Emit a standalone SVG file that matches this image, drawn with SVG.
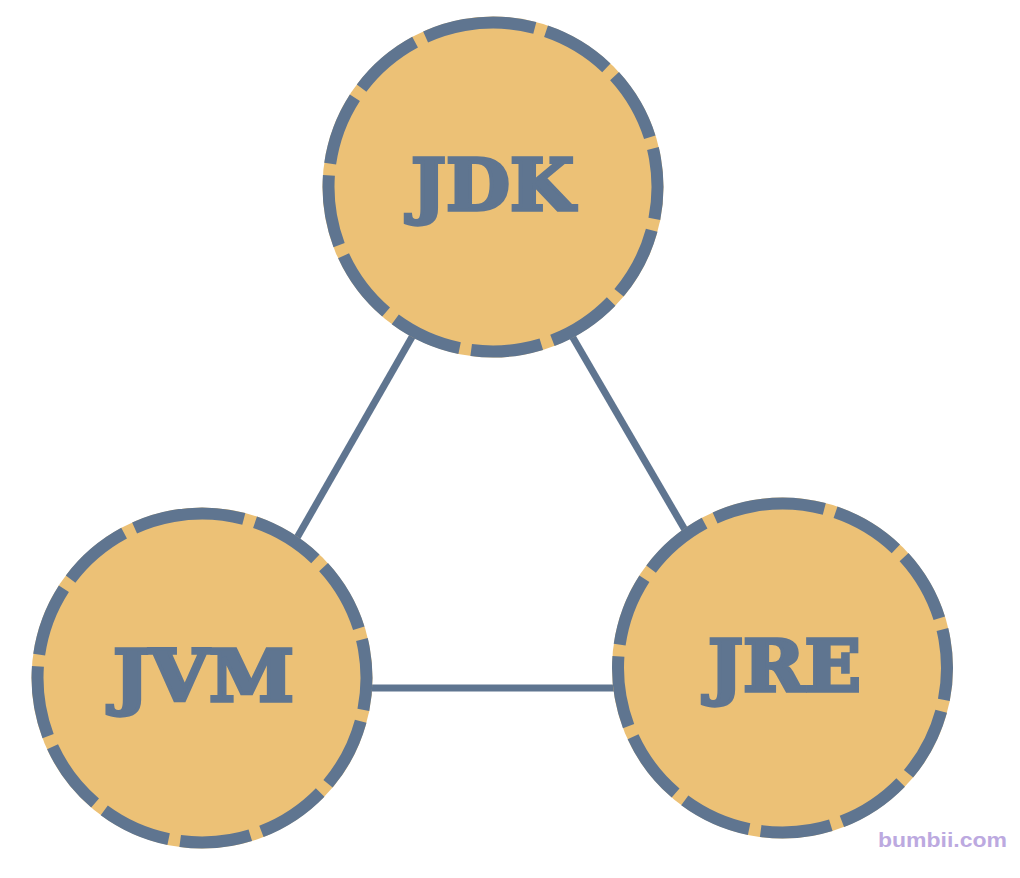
<svg xmlns="http://www.w3.org/2000/svg" width="1020" height="878" viewBox="0 0 1020 878">
  <style>
    .halo { fill: #ECC176; }
    .ring { fill: none; stroke: #5F7590; stroke-width: 12; stroke-dasharray: 71 11.7; }
    .label { font-family: "DejaVu Serif", "Liberation Serif", serif; font-weight: bold; font-size: 71px; fill: #5F7590; stroke: #5F7590; stroke-width: 3.5; stroke-linejoin: miter; text-anchor: middle; }
    .edge { stroke: #5F7590; stroke-width: 7; fill: none; }
    .wm { font-family: "Liberation Sans", Arial, sans-serif; font-weight: bold; font-size: 21px; fill: #BCA9E0; }
  </style>
  <rect width="1020" height="878" fill="#FFFFFF"/>
  <g id="connectors">
    <line class="edge" x1="420" y1="323" x2="290" y2="550"/>
    <line class="edge" x1="565" y1="324" x2="692" y2="542"/>
    <line class="edge" x1="360" y1="688" x2="625" y2="688"/>
  </g>
  <g id="node-jdk">
    <circle class="halo" cx="493" cy="187" r="170.5"/>
    <circle class="ring" cx="493" cy="187" r="164.5" transform="rotate(-100 493 187)"/>
    <text class="label" x="492.5" y="210" textLength="163" lengthAdjust="spacingAndGlyphs">JDK</text>
  </g>
  <g id="node-jvm">
    <circle class="halo" cx="202" cy="678" r="170.5"/>
    <circle class="ring" cx="202" cy="678" r="164.5" transform="rotate(-100 202 678)"/>
    <text class="label" x="203.5" y="701" textLength="181" lengthAdjust="spacingAndGlyphs">JVM</text>
  </g>
  <g id="node-jre">
    <circle class="halo" cx="782.5" cy="668" r="170.5"/>
    <circle class="ring" cx="782.5" cy="668" r="164.5" transform="rotate(-100 782.5 668)"/>
    <text class="label" x="784.5" y="691" textLength="153" lengthAdjust="spacingAndGlyphs">JRE</text>
  </g>
  <text class="wm" x="878" y="847" textLength="129" lengthAdjust="spacingAndGlyphs">bumbii.com</text>
</svg>
